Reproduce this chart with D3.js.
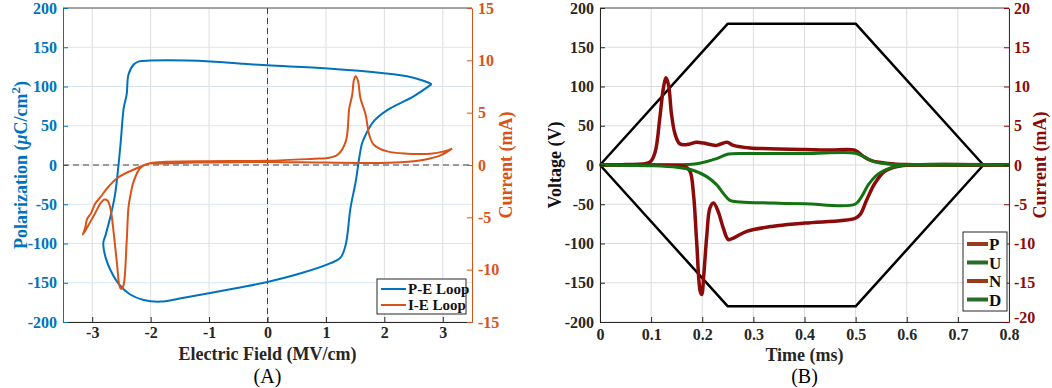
<!DOCTYPE html>
<html>
<head>
<meta charset="utf-8">
<script src="https://cdn.jsdelivr.net/npm/d3@7"></script>
<style>
  body { margin: 0; background: #fff; }
  svg text { font-family: "Liberation Serif", "Times New Roman", serif; }
</style>
</head>
<body>
<div id="chart"></div>
<script>
// (A) P-E loop: [field MV/cm, polarization uC/cm2]
const peLoop = [
  [2.81,103],[2.68,107],[2.39,113],[1.99,117],[1.03,123],[0,127],[-0.41,129],[-0.98,132],
  [-2.01,133],[-2.2,132],[-2.29,128],[-2.38,115],[-2.41,90],[-2.46,73],[-2.51,31],[-2.55,0],
  [-2.61,-38],[-2.68,-63],[-2.77,-89],[-2.81,-99],[-2.77,-118],[-2.68,-135],[-2.54,-152],
  [-2.35,-165],[-2.12,-172],[-1.83,-174],[-1.43,-169],[-0.98,-163],[-0.47,-156],[0,-149],
  [0.57,-138],[1.08,-125],[1.25,-118],[1.34,-101],[1.42,-55],[1.51,-21],[1.57,9],[1.62,28],
  [1.71,43],[1.82,56],[2.05,70],[2.5,87.5],[2.81,103]
];
// (A) I-E loop: [field MV/cm, current mA]
const ieLoop = [
  [3.16,1.56],[2.96,0.92],[2.68,0.5],[2.28,0.26],[1.71,0.19],[0.57,0.26],[0,0.28],[-1,0.25],
  [-1.8,0.15],[-2.06,0.1],[-2.18,-0.29],[-2.29,-1.56],[-2.35,-3.0],[-2.38,-4.1],[-2.41,-7.3],
  [-2.46,-11.4],[-2.49,-11.8],[-2.52,-11.75],[-2.58,-9.2],[-2.63,-6.6],[-2.69,-4.1],[-2.74,-3.4],
  [-2.79,-3.3],[-2.85,-3.6],[-2.95,-4.6],[-3.05,-5.6],[-3.12,-6.3],[-3.16,-6.65],[-3.12,-6.0],
  [-3.09,-5.2],[-3.02,-4.6],[-2.95,-3.7],[-2.85,-3.0],[-2.77,-2.4],[-2.57,-1.24],[-2.23,-0.29],
  [-2.0,0.19],[-1.21,0.35],[0,0.4],[0.8,0.6],[1.03,0.67],[1.2,0.98],[1.34,2.26],[1.4,5.44],
  [1.45,6.7],[1.48,8.15],[1.51,8.47],[1.55,8.0],[1.59,6.4],[1.68,4.8],[1.74,2.9],[1.82,1.94],
  [2.05,1.3],[2.39,1.08],[2.79,1.08],[3.02,1.3],[3.16,1.56]
];
const fieldTicks = [-3,-2,-1,0,1,2,3];
const polTicks = [-200,-150,-100,-50,0,50,100,150,200];
const ieCurTicks = [-15,-10,-5,0,5,10,15];

// (B) PUND: voltage (V) and currents (mA) vs time (ms)
const voltUp = [[0,0],[0.25,180],[0.5,180],[0.75,0]];
const voltDown = [[0,0],[0.25,-180],[0.5,-180],[0.75,0]];
const pCurrent = [
  [0,0],[0.05,0.05],[0.098,0.4],[0.108,1.7],[0.117,6],[0.124,9.8],[0.129,11.1],[0.134,10.2],
  [0.14,6.4],[0.147,3.9],[0.156,2.7],[0.17,2.6],[0.189,2.9],[0.202,2.8],[0.228,2.5],[0.248,2.9],
  [0.261,2.5],[0.293,2.17],[0.35,2.05],[0.401,1.96],[0.45,1.9],[0.499,1.87],[0.515,1.1],
  [0.531,0.55],[0.564,0.2],[0.6,0.05],[0.7,0],[0.8,0]
];
const uCurrent = [
  [0,0],[0.1,0.02],[0.18,0.1],[0.2,0.3],[0.215,0.55],[0.235,1.0],[0.251,1.4],[0.3,1.45],
  [0.401,1.45],[0.499,1.5],[0.515,1.1],[0.537,0.4],[0.57,0.1],[0.6,0],[0.8,0]
];
const nCurrent = [
  [0,0],[0.15,-0.05],[0.166,-0.17],[0.176,-0.8],[0.183,-3.8],[0.189,-9.7],[0.196,-16.1],
  [0.199,-16.5],[0.203,-14],[0.209,-8.9],[0.215,-5.5],[0.222,-4.85],[0.231,-5.9],[0.241,-8.0],
  [0.251,-9.5],[0.261,-9.3],[0.287,-8.45],[0.339,-7.8],[0.401,-7.4],[0.499,-6.8],[0.509,-6.3],
  [0.522,-4.4],[0.538,-2.3],[0.557,-0.8],[0.584,-0.17],[0.61,0],[0.8,0]
];
const dCurrent = [
  [0,0],[0.1,-0.1],[0.15,-0.3],[0.183,-0.7],[0.208,-1.45],[0.228,-2.5],[0.241,-3.6],[0.254,-4.5],
  [0.274,-4.7],[0.339,-4.85],[0.401,-4.95],[0.499,-5.0],[0.512,-4.0],[0.525,-2.5],[0.545,-1.1],
  [0.571,-0.3],[0.597,0],[0.8,0]
];
const timeTicks = [0,0.1,0.2,0.3,0.4,0.5,0.6,0.7,0.8];
const voltTicks = [-200,-150,-100,-50,0,50,100,150,200];
const pundCurTicks = [-20,-15,-10,-5,0,5,10,15,20];
const pundNames = ["P","U","N","D"];

const blue = "#0072BD", orange = "#D95319", darkRed = "#8B0A0A", green = "#137313";

const svg = d3.select("#chart").append("svg")
  .attr("width", 1052).attr("height", 388);

const plotTop = 8, plotBottom = 322;
const plain = d => String(d); // hyphen minus, like the MATLAB labels

function styleAxis(g, color) {
  g.select(".domain").attr("stroke", color).attr("stroke-width", 1);
  g.selectAll(".tick line").attr("stroke", color);
  g.selectAll(".tick text").attr("fill", color)
    .style("font-size", "16px").style("font-weight", "bold");
}

// ---------------- Panel A ----------------
(function panelA() {
  const left = 63, right = 472;
  const x = d3.scaleLinear().domain([-3.5, 3.5]).range([left, right]);
  const y = d3.scaleLinear().domain([-200, 200]).range([plotBottom, plotTop]);
  const y2 = d3.scaleLinear().domain([-15, 15]).range([plotBottom, plotTop]);
  const g = svg.append("g");

  // grid
  g.selectAll(".vg").data(fieldTicks).join("line")
    .attr("x1", d => x(d)).attr("x2", d => x(d)).attr("y1", plotTop).attr("y2", plotBottom)
    .attr("stroke", "#dcdcdc");
  g.selectAll(".hg").data(polTicks).join("line")
    .attr("x1", left).attr("x2", right).attr("y1", d => y(d)).attr("y2", d => y(d))
    .attr("stroke", "#d6e7f3");

  // zero lines
  g.append("line").attr("x1", left).attr("x2", right).attr("y1", y(0)).attr("y2", y(0))
    .attr("stroke", "#444").attr("stroke-dasharray", "6,4");
  g.append("line").attr("x1", x(0)).attr("x2", x(0)).attr("y1", plotTop).attr("y2", plotBottom)
    .attr("stroke", "#444").attr("stroke-dasharray", "6,4");

  // top border
  g.append("line").attr("x1", left).attr("x2", right).attr("y1", plotTop).attr("y2", plotTop)
    .attr("stroke", "#555");

  const line = d3.line().curve(d3.curveCatmullRom.alpha(0.5));
  g.append("path").attr("d", line.x(d => x(d[0])).y(d => y(d[1]))(peLoop))
    .attr("fill", "none").attr("stroke", blue).attr("stroke-width", 2);
  g.append("path").attr("d", line.x(d => x(d[0])).y(d => y2(d[1]))(ieLoop))
    .attr("fill", "none").attr("stroke", orange).attr("stroke-width", 2);

  // axes
  const ax = g.append("g").attr("transform", `translate(0,${plotBottom})`)
    .call(d3.axisBottom(x).tickValues(fieldTicks).tickFormat(plain)
      .tickSizeInner(-5).tickSizeOuter(0).tickPadding(5));
  styleAxis(ax, "#262626");
  const ay = g.append("g").attr("transform", `translate(${left},0)`)
    .call(d3.axisLeft(y).tickValues(polTicks).tickFormat(plain)
      .tickSizeInner(-5).tickSizeOuter(0).tickPadding(6));
  styleAxis(ay, blue);
  const ay2 = g.append("g").attr("transform", `translate(${right},0)`)
    .call(d3.axisRight(y2).tickValues(ieCurTicks).tickFormat(plain)
      .tickSizeInner(-5).tickSizeOuter(0).tickPadding(6));
  styleAxis(ay2, orange);

  // labels
  g.append("text").attr("x", x(0)).attr("y", 360).attr("text-anchor", "middle")
    .style("font-size", "18px").style("font-weight", "bold").attr("fill", "#262626")
    .text("Electric Field (MV/cm)");
  g.append("text").attr("x", x(0)).attr("y", 383).attr("text-anchor", "middle")
    .style("font-size", "20px").text("(A)");

  const yl = g.append("text").attr("transform", `translate(27,${y(0)}) rotate(-90)`)
    .attr("text-anchor", "middle").attr("fill", blue)
    .style("font-size", "18px").style("font-weight", "bold");
  yl.append("tspan").text("Polarization (");
  yl.append("tspan").style("font-style", "italic").text("\u03BC");
  yl.append("tspan").text("C/cm");
  yl.append("tspan").attr("dy", -7).style("font-size", "13px").text("2");
  yl.append("tspan").attr("dy", 7).text(")");

  g.append("text").attr("transform", `translate(512,${y(0)}) rotate(-90)`)
    .attr("text-anchor", "middle").attr("fill", orange)
    .style("font-size", "18px").style("font-weight", "bold").text("Current (mA)");

  // legend
  const lg = g.append("g").attr("transform", "translate(377,279)");
  lg.append("rect").attr("width", 89).attr("height", 35).attr("fill", "#fff")
    .attr("stroke", "#262626");
  [["P-E Loop", blue], ["I-E Loop", orange]].forEach((d, i) => {
    const yy = 10 + i * 16;
    lg.append("line").attr("x1", 4).attr("x2", 29).attr("y1", yy).attr("y2", yy)
      .attr("stroke", d[1]).attr("stroke-width", 2);
    lg.append("text").attr("x", 31).attr("y", yy + 5).style("font-size", "15px")
      .style("font-weight", "bold").attr("fill", "#111").text(d[0]);
  });
})();

// ---------------- Panel B ----------------
(function panelB() {
  const left = 600, right = 1009;
  const x = d3.scaleLinear().domain([0, 0.8]).range([left, right]);
  const y = d3.scaleLinear().domain([-200, 200]).range([plotBottom, plotTop]);
  const y2 = d3.scaleLinear().domain([-20, 20]).range([plotBottom, plotTop]);
  const g = svg.append("g");

  g.selectAll(".vg").data(timeTicks).join("line")
    .attr("x1", d => x(d)).attr("x2", d => x(d)).attr("y1", plotTop).attr("y2", plotBottom)
    .attr("stroke", "#dcdcdc");
  g.selectAll(".hg").data(voltTicks).join("line")
    .attr("x1", left).attr("x2", right).attr("y1", d => y(d)).attr("y2", d => y(d))
    .attr("stroke", "#dcdcdc");
  g.append("line").attr("x1", left).attr("x2", right).attr("y1", plotTop).attr("y2", plotTop)
    .attr("stroke", "#555");

  const vline = d3.line().x(d => x(d[0])).y(d => y(d[1])).curve(d3.curveLinear);
  [voltUp, voltDown].forEach(v => {
    g.append("path").attr("d", vline(v)).attr("fill", "none")
      .attr("stroke", "#000").attr("stroke-width", 2.5).attr("stroke-linejoin", "round");
  });

  const cline = d3.line().x(d => x(d[0])).y(d => y2(d[1])).curve(d3.curveCatmullRom.alpha(0.5));
  const series = [[pCurrent, darkRed, 3.5], [uCurrent, green, 3], [nCurrent, darkRed, 3.5], [dCurrent, green, 3]];
  series.forEach(s => {
    g.append("path").attr("d", cline(s[0])).attr("fill", "none")
      .attr("stroke", s[1]).attr("stroke-width", s[2]).attr("stroke-linejoin", "round");
  });

  const ax = g.append("g").attr("transform", `translate(0,${plotBottom})`)
    .call(d3.axisBottom(x).tickValues(timeTicks).tickFormat(plain)
      .tickSizeInner(-5).tickSizeOuter(0).tickPadding(7));
  styleAxis(ax, "#262626");
  const ay = g.append("g").attr("transform", `translate(${left},0)`)
    .call(d3.axisLeft(y).tickValues(voltTicks).tickFormat(plain)
      .tickSizeInner(-5).tickSizeOuter(0).tickPadding(6));
  styleAxis(ay, "#262626");
  const ay2 = g.append("g").attr("transform", `translate(${right},0)`)
    .call(d3.axisRight(y2).tickValues(pundCurTicks).tickFormat(plain)
      .tickSizeInner(-5).tickSizeOuter(0).tickPadding(5));
  styleAxis(ay2, darkRed);
  ay2.selectAll(".tick text").filter(d => d === -20).attr("dy", "0.05em");

  g.append("text").attr("x", x(0.4)).attr("y", 361).attr("text-anchor", "middle")
    .style("font-size", "18px").style("font-weight", "bold").attr("fill", "#262626")
    .text("Time (ms)");
  g.append("text").attr("x", x(0.4)).attr("y", 383).attr("text-anchor", "middle")
    .style("font-size", "20px").text("(B)");
  g.append("text").attr("transform", `translate(561,${y(0)}) rotate(-90)`)
    .attr("text-anchor", "middle").attr("fill", "#111")
    .style("font-size", "18px").style("font-weight", "bold").text("Voltage (V)");
  g.append("text").attr("transform", `translate(1046,${y(0)}) rotate(-90)`)
    .attr("text-anchor", "middle").attr("fill", darkRed)
    .style("font-size", "18px").style("font-weight", "bold").text("Current (mA)");

  // legend
  const lg = g.append("g").attr("transform", "translate(963,232)");
  lg.append("rect").attr("width", 44).attr("height", 79).attr("fill", "#fff")
    .attr("stroke", "#262626");
  const legColors = ["#9a3a1c", "#2a6a2a", "#9a3a1c", "#2a6a2a"];
  pundNames.forEach((n, i) => {
    const yy = 12 + i * 18.5;
    lg.append("line").attr("x1", 4).attr("x2", 25).attr("y1", yy).attr("y2", yy)
      .attr("stroke", legColors[i]).attr("stroke-width", 4);
    lg.append("text").attr("x", 26).attr("y", yy + 6).style("font-size", "17px")
      .style("font-weight", "bold").attr("fill", "#111").text(n);
  });
})();
</script>
</body>
</html>
